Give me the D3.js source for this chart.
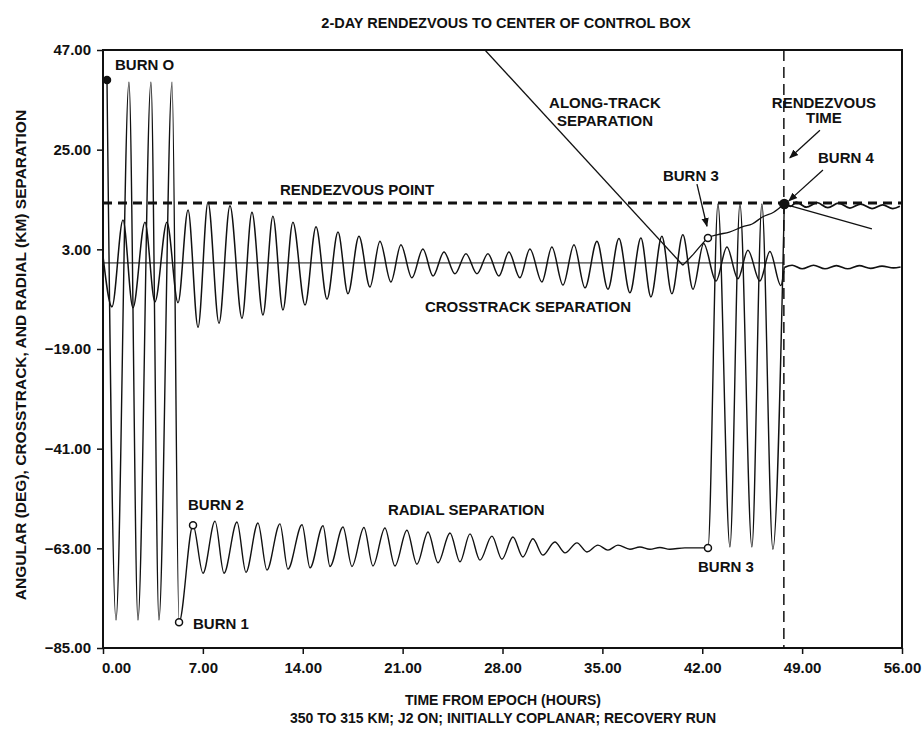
<!DOCTYPE html>
<html><head><meta charset="utf-8">
<script src="https://cdn.jsdelivr.net/npm/d3@7"></script>
<style>
body{margin:0;background:#fff}
text{font-family:"Liberation Sans",Arial,Helvetica,sans-serif;font-weight:bold;fill:#111}
</style>
</head><body>
<svg id="chart" width="923" height="741"></svg>
<script>
// ---------------- data ----------------
const xTicks = [0, 7, 14, 21, 28, 35, 42, 49, 56];
const yTicks = [47, 25, 3, -19, -41, -63, -85];

// crosstrack separation (km) – peaks / troughs
const crosstrack = [
 [0,1.5],[0.63,-9.7],[1.40,9.5],[2.10,-9.9],[2.94,9.0],[3.64,-8.6],[4.48,9.0],[5.26,-8.8],
 [5.96,11.7],[6.66,-14.2],[7.36,13.4],[8.13,-13.3],[8.90,12.6],[9.74,-12.2],[10.44,11.2],
 [11.21,-11.5],[11.91,10.3],[12.61,-10.4],[13.31,9.0],[14.16,-9.3],[14.93,8.0],[15.70,-8.0],
 [16.47,6.8],[17.17,-6.8],[17.94,5.9],[18.71,-5.3],[19.41,4.8],[20.18,-4.2],[20.88,4.0],
 [21.65,-3.3],[22.42,3.1],[23.13,-2.9],[23.90,2.4],[24.67,-2.4],[25.44,2.0],[26.21,-2.4],
 [26.98,2.0],[27.75,-2.9],[28.45,2.4],[29.22,-3.3],[29.92,3.1],[30.76,-4.2],[31.46,3.5],
 [32.24,-4.9],[33.01,4.0],[33.78,-5.5],[34.62,4.8],[35.39,-5.8],[36.16,5.4],[36.93,-6.6],
 [37.70,5.5],[38.40,-7.5],[39.17,5.9],[39.87,-6.8],[40.64,6.2],[41.35,-5.8],[42.10,4.3],
 [42.96,-4.0],[43.73,3.5],[44.50,-3.5],[45.20,2.8],[46.04,-4.0],[46.74,2.5],[47.51,-5.0],[47.75,-1.0]
];
const crosstrackAfter = [
 [47.75,-1.0],[48.3,-0.5],[49.0,-1.3],[49.8,-0.5],[50.6,-1.3],[51.4,-0.6],[52.2,-1.3],
 [53.0,-0.6],[53.8,-1.2],[54.6,-0.7],[55.4,-1.1],[55.9,-0.9]
];
// radial separation (km)
const radial = [
 [0.28,40.4],[0.91,-78.8],[1.82,39.9],[2.45,-78.8],[3.36,39.9],[3.92,-78.8],[4.84,39.9],
 [5.33,-79.3],[6.31,-57.9],
 [7.01,-68.5],[7.85,-57.0],[8.48,-68.5],[9.39,-57.2],[10.02,-68.3],[10.86,-57.4],[11.49,-67.8],
 [12.40,-57.6],[12.96,-67.6],[13.95,-57.8],[14.51,-67.3],[15.42,-58.0],[15.91,-67.0],
 [16.82,-58.3],[17.45,-67.0],[18.29,-58.4],[18.92,-66.9],[19.76,-58.5],[20.46,-66.9],
 [21.30,-59.0],[22.00,-66.5],[22.78,-59.4],[23.48,-66.2],[24.32,-59.6],[25.02,-66.0],
 [25.72,-59.8],[26.42,-65.6],[27.26,-60.3],[27.96,-65.4],[28.73,-60.5],[29.43,-64.9],
 [30.13,-60.9],[30.83,-64.5],[31.67,-61.6],[32.38,-64.0],[33.22,-61.8],[33.92,-63.8],
 [34.69,-62.3],[35.39,-63.4],[36.09,-62.3],[36.93,-63.2],[37.63,-62.7],[38.33,-63.2],
 [39.03,-62.8],[39.73,-63.2],[40.78,-62.9],[42.40,-62.9],
 [43.10,13.0],[43.94,-62.7],[44.64,13.0],[45.48,-62.7],[46.18,13.0],[46.95,-63.2],[47.75,13.0]
];
const radialAfter = [
 [47.75,13.0],[48.20,12.5],[48.60,13.4],[49.30,12.3],[50.05,13.3],[50.80,12.2],[51.55,13.2],
 [52.35,12.1],[53.10,13.0],[53.90,12.0],[54.65,12.8],[55.35,12.0],[55.85,12.5]
];
// along-track separation (deg): straight phasing drift, then post-burn rise
const alongTrackDrift = [[26.77,47.0],[40.64,-0.5]];
const alongTrackRise = [
 [40.64,-0.5],[41.40,2.0],[42.00,4.2],[42.40,5.5],[43.03,6.2],[43.90,6.8],
 [44.85,8.0],[45.50,8.6],[46.25,10.2],[47.00,11.2],[47.75,13.0]
];
const alongTrackAfter = [[47.75,13.0],[53.89,7.5]];

const rendezvousPoint = 13.2;   // dashed "RENDEZVOUS POINT" level
const crossCenter = 0;          // crosstrack reference level
const rendezvousTime = 47.72;   // hours

const burns = [
 {t:0.28, v:40.4, kind:"dot"},
 {t:5.33, v:-79.3, kind:"open"},
 {t:6.31, v:-57.9, kind:"open"},
 {t:42.40, v:-62.9, kind:"open"},
 {t:42.40, v:5.5, kind:"open"},
 {t:47.75, v:13.0, kind:"big"}
];

const labels = [
 {text:"BURN O", t:0.84, v:43.7, anchor:"start"},
 {text:"RENDEZVOUS POINT", t:12.40, v:16.1, anchor:"start"},
 {text:"CROSSTRACK SEPARATION", t:22.56, v:-9.7, anchor:"start"},
 {text:"ALONG-TRACK", t:35.18, v:35.5, anchor:"middle"},
 {text:"SEPARATION", t:35.18, v:31.5, anchor:"middle"},
 {text:"RENDEZVOUS", t:50.53, v:35.5, anchor:"middle"},
 {text:"TIME", t:50.53, v:32.0, anchor:"middle"},
 {text:"BURN 4", t:52.07, v:23.2, anchor:"middle"},
 {text:"BURN 3", t:41.20, v:19.4, anchor:"middle"},
 {text:"BURN 3", t:43.66, v:-67.1, anchor:"middle"},
 {text:"BURN 1", t:6.31, v:-79.5, anchor:"start"},
 {text:"BURN 2", t:5.96, v:-53.4, anchor:"start"},
 {text:"RADIAL SEPARATION", t:19.97, v:-54.5, anchor:"start"}
];
const arrows = [
 {t1:50.25, v1:29.3, t2:48.14, v2:23.2},
 {t1:50.46, v1:20.5, t2:48.07, v2:13.7},
 {t1:41.63, v1:17.4, t2:42.33, v2:8.1}
];

// ---------------- drawing ----------------
const svg = d3.select("#chart");
const x = d3.scaleLinear().domain([0,56]).range([103,902]);
const y = d3.scaleLinear().domain([-85,47]).range([648,50]);

svg.append("defs").append("clipPath").attr("id","clip")
  .append("rect").attr("x",x(0)).attr("y",y(47)).attr("width",x(56)-x(0)).attr("height",y(-85)-y(47));
const m = svg.select("defs").append("marker").attr("id","arr")
  .attr("viewBox","0 0 10 10").attr("refX",9).attr("refY",5)
  .attr("markerWidth",7).attr("markerHeight",7).attr("orient","auto");
m.append("path").attr("d","M0,1 L10,5 L0,9 Z").attr("fill","#111");

// title
svg.append("text").attr("x",506).attr("y",23).attr("text-anchor","middle")
  .attr("dominant-baseline","central").style("font-size","14.5px")
  .text("2-DAY RENDEZVOUS TO CENTER OF CONTROL BOX");

// axes
const yAxis = d3.axisLeft(y).tickValues(yTicks).tickFormat(d3.format(".2f")).tickSize(6).tickPadding(6);
const xAxis = d3.axisBottom(x).tickValues(xTicks).tickFormat(d3.format(".2f")).tickSize(6).tickPadding(8);
const gy = svg.append("g").attr("transform",`translate(${x(0)},0)`).call(yAxis);
const gx = svg.append("g").attr("transform",`translate(0,${y(-85)})`).call(xAxis);
[gy,gx].forEach(g=>{
  g.select(".domain").remove();
  g.selectAll(".tick line").attr("stroke","#111").attr("stroke-width",1.5);
  g.selectAll(".tick text").style("font-size","15px").style("font-family","'Liberation Sans',Arial,sans-serif").attr("fill","#111");
});
// first time label sits to the right of the corner
gx.selectAll(".tick text").filter(d=>d===0).attr("dx",13);

// frame
svg.append("rect").attr("x",x(0)).attr("y",y(47)).attr("width",x(56)-x(0)).attr("height",y(-85)-y(47))
  .attr("fill","none").attr("stroke","#111").attr("stroke-width",2);

// axis titles
svg.append("text").attr("transform",`translate(20,355) rotate(-90)`).attr("text-anchor","middle")
  .attr("dominant-baseline","central").style("font-size","15.5px")
  .text("ANGULAR (DEG), CROSSTRACK, AND RADIAL (KM) SEPARATION");
svg.append("text").attr("x",503).attr("y",700).attr("text-anchor","middle").attr("dominant-baseline","central")
  .style("font-size","14px").text("TIME FROM EPOCH (HOURS)");
svg.append("text").attr("x",503).attr("y",718).attr("text-anchor","middle").attr("dominant-baseline","central")
  .style("font-size","14px").text("350 TO 315 KM; J2 ON; INITIALLY COPLANAR; RECOVERY RUN");

const plot = svg.append("g").attr("clip-path","url(#clip)");

// reference lines
plot.append("line").attr("x1",x(0)).attr("x2",x(56)).attr("y1",y(rendezvousPoint)).attr("y2",y(rendezvousPoint))
  .attr("stroke","#111").attr("stroke-width",3).attr("stroke-dasharray","9,6");
plot.append("line").attr("x1",x(0)).attr("x2",x(rendezvousTime)).attr("y1",y(crossCenter)).attr("y2",y(crossCenter))
  .attr("stroke","#111").attr("stroke-width",1);
plot.append("line").attr("x1",x(rendezvousTime)).attr("x2",x(rendezvousTime)).attr("y1",y(47)).attr("y2",y(-85))
  .attr("stroke","#111").attr("stroke-width",1.5).attr("stroke-dasharray","11,6");

const line = d3.line().x(d=>x(d[0])).y(d=>y(d[1])).curve(d3.curveMonotoneX);
const lineLin = d3.line().x(d=>x(d[0])).y(d=>y(d[1]));
const series = [
  {d:crosstrack, w:1.5, c:line},
  {d:crosstrackAfter, w:1.6, c:line},
  {d:radial, w:1.4, c:line},
  {d:radialAfter, w:1.8, c:line},
  {d:alongTrackDrift, w:1.3, c:lineLin},
  {d:alongTrackRise, w:1.3, c:line},
  {d:alongTrackAfter, w:1.3, c:lineLin}
];
series.forEach(s=>{
  plot.append("path").attr("d",s.c(s.d)).attr("fill","none").attr("stroke","#111")
    .attr("stroke-width",s.w).attr("stroke-linejoin","round");
});

// burn markers
svg.selectAll(".burn").data(burns).join("circle").attr("class","burn")
  .attr("cx",d=>x(d.t)).attr("cy",d=>y(d.v))
  .attr("r",d=>d.kind==="big"?4.5:3.5)
  .attr("fill",d=>d.kind==="open"?"#fff":"#111")
  .attr("stroke","#111").attr("stroke-width",1.5);

// arrows
svg.selectAll(".arrow").data(arrows).join("line").attr("class","arrow")
  .attr("x1",d=>x(d.t1)).attr("y1",d=>y(d.v1)).attr("x2",d=>x(d.t2)).attr("y2",d=>y(d.v2))
  .attr("stroke","#111").attr("stroke-width",1.3).attr("marker-end","url(#arr)");

// labels
svg.selectAll(".lab").data(labels).join("text").attr("class","lab")
  .attr("x",d=>x(d.t)).attr("y",d=>y(d.v)).attr("text-anchor",d=>d.anchor)
  .attr("dominant-baseline","central").style("font-size","15px").text(d=>d.text);
</script>
</body></html>
